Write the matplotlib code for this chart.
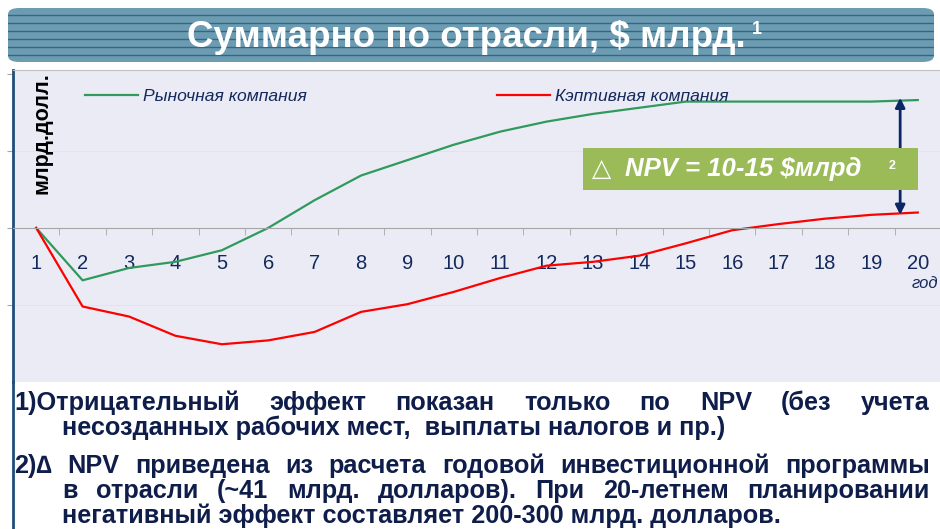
import numpy as np
import matplotlib
matplotlib.use('Agg')
from matplotlib import pyplot as plt
from matplotlib.patches import FancyBboxPatch, Rectangle
from matplotlib.lines import Line2D

plt.rcParams['font.family'] = ['Liberation Sans', 'DejaVu Sans']

years = list(range(1, 21))
market = [0, -6.8, -5.2, -4.4, -2.9, 0, 3.6, 6.8, 8.8, 10.8,
          12.5, 13.8, 14.8, 15.6, 16.4, 16.4, 16.4, 16.4, 16.4, 16.6]
captive = [0, -10.2, -11.5, -14.0, -15.1, -14.6, -13.5, -10.9, -9.9, -8.3,
           -6.5, -4.9, -4.4, -3.6, -2.0, -0.3, 0.5, 1.2, 1.7, 2.0]
labels = ['Рыночная компания', 'Кэптивная компания']
colors = ['#2F9A5B', '#FF0000']
navy = '#13295C'

W, H = 940, 529
fig = plt.figure(figsize=(W / 100, H / 100), dpi=100)


def fx(px):
    return px / W


def fy(py):
    return 1 - py / H


# title banner
banner = FancyBboxPatch((fx(8), fy(62)), fx(926), 54 / H,
                        boxstyle='round,pad=0,rounding_size=0.012',
                        transform=fig.transFigure, facecolor='#6D9CB2',
                        edgecolor='none', zorder=1)
fig.patches.append(banner)
for py in np.arange(15, 60, 8):
    ln = Line2D([fx(8), fx(934)], [fy(py), fy(py)], transform=fig.transFigure,
                color='#2B6A8A', lw=1.0, zorder=2)
    ln.set_clip_path(banner)
    fig.lines.append(ln)
title = fig.text(fx(466), fy(47), 'Суммарно по отрасли, $ млрд.', color='white',
                 fontsize=26.5, fontweight='bold', ha='center', va='baseline',
                 zorder=3)
title_sup = fig.text(0, fy(30), '1', color='white', fontsize=13,
                     fontweight='bold', ha='left', va='center', zorder=3)

# chart
ax = fig.add_axes([fx(13), fy(382), 928 / W, 312 / H])
ax.set_facecolor('#EBEBF5')
ax.plot(years, market, color=colors[0], lw=1.6, label=labels[0])
ax.plot(years, captive, color=colors[1], lw=1.6, label=labels[1])
ax.set_xlim(0.5, 20.5)
ax.set_ylim(-20, 20.5)

ax.spines['bottom'].set_position(('data', 0))
ax.spines['bottom'].set_color('#A6A6A6')
ax.spines['top'].set_color('#C0C0C0')
ax.spines['right'].set_visible(False)
ax.spines['left'].set_color('#1F4E79')
ax.spines['left'].set_linewidth(2)

ax.set_xticks(years)
ax.set_xticklabels([str(y) for y in years])
ax.set_xticks([y + 0.5 for y in years[:-1]], minor=True)
ax.tick_params(axis='x', which='major', length=0, pad=19, labelsize=14.5,
               labelcolor=navy)
ax.tick_params(axis='x', which='minor', length=5, direction='out',
               color='#A6A6A6')
ax.set_yticks([-10, 0, 10, 20])
ax.set_yticklabels([])
ax.tick_params(axis='y', length=4, direction='out', color='#A6A6A6')
for v in [-10, 10]:
    ax.axhline(v, color='#E2E2EE', lw=0.6, zorder=0)

leg_style = dict(loc='center left', frameon=False, borderpad=0,
                 borderaxespad=0, handlelength=3.0, handletextpad=0.3,
                 prop={'style': 'italic', 'size': 12.6})
leg1 = ax.legend(handles=[ax.lines[0]],
                 bbox_to_anchor=((85 - 13) / 928, (382 - 96) / 312), **leg_style)
for t in leg1.get_texts():
    t.set_color(navy)
ax.add_artist(leg1)
leg2 = ax.legend(handles=[ax.lines[1]],
                 bbox_to_anchor=((497 - 13) / 928, (382 - 96) / 312), **leg_style)
for t in leg2.get_texts():
    t.set_color(navy)

# NPV gap arrow
ax_x = 19.62
ax.annotate('', xy=(ax_x, market[-1] + 0.3), xytext=(ax_x, captive[-1] - 0.3),
            arrowprops=dict(arrowstyle='<|-|>', color='#0B2766', lw=2,
                            mutation_scale=14, shrinkA=0, shrinkB=0), zorder=4)

fig.patches.append(Rectangle((fx(583), fy(190)), 335 / W, 42 / H,
                             transform=fig.transFigure, facecolor='#9BBB59',
                             edgecolor='none', zorder=5))
fig.text(fx(592), fy(176), '△', color='white', fontsize=18,
         ha='left', va='baseline', zorder=6, family=['DejaVu Sans'])
fig.text(fx(625), fy(176), 'NPV = 10-15 $млрд', color='white', fontsize=18.5,
         fontweight='bold', style='italic', ha='left', va='baseline', zorder=6)
fig.text(fx(889), fy(166), '2', color='white', fontsize=9,
         fontweight='bold', ha='left', va='center', zorder=6)

fig.text(fx(925), fy(283), 'год', color=navy, fontsize=12, style='italic',
         ha='center', va='center')

fig.text(fx(42), fy(72), 'млрд.долл.', rotation=90, fontsize=15.5,
         fontweight='bold', color='black', ha='center', va='top')

# left border continuing below the chart
fig.lines.append(Line2D([fx(13), fx(13)], [fy(382), 0], transform=fig.transFigure,
                        color='#1F4E79', lw=2))

# notes, justified like the slide
notes = [
    ('1)Отрицательный эффект показан только по NPV (без учета', 14, 930, 410, True),
    ('несозданных рабочих мест,  выплаты налогов и пр.)', 62, None, 435, False),
    ('2)∆ NPV приведена из расчета годовой инвестиционной программы', 14, 930, 473, True),
    ('в отрасли (~41 млрд. долларов). При 20-летнем планировании', 62, 930, 498, True),
    ('негативный эффект составляет 200-300 млрд. долларов.', 62, None, 523, False),
]
note_style = dict(fontsize=18.2, fontweight='bold', color='#0E1D4A',
                  va='baseline', ha='left')
placed = []
for text, x0, x1, y, just in notes:
    if just:
        words = [fig.text(0, fy(y), w, **note_style) for w in text.split()]
    else:
        words = [fig.text(fx(x0), fy(y), text, **note_style)]
    placed.append((words, x0, x1, just))

renderer = fig.canvas.get_renderer()
for words, x0, x1, just in placed:
    if not just:
        continue
    widths = [w.get_window_extent(renderer).width for w in words]
    gap = (x1 - x0 - sum(widths)) / (len(words) - 1)
    x = x0
    for w, wd in zip(words, widths):
        w.set_x(fx(x))
        x += wd + gap

tb = title.get_window_extent(renderer)
title_sup.set_x(fx(tb.x1 + 7))

fig.savefig('out.png', dpi=100)
